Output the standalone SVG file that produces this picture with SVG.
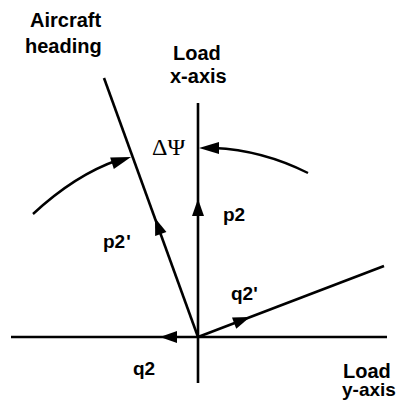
<svg xmlns="http://www.w3.org/2000/svg" xmlns:xlink="http://www.w3.org/1999/xlink" width="402" height="400" viewBox="0 0 402 400">
  <style>
    .ln { stroke: #000; stroke-width: 2.6; fill: none; stroke-linecap: butt; }
    .arc { stroke: #000; stroke-width: 2.4; fill: none; }
    .lbl { font-family: "Liberation Sans", Arial, Helvetica, sans-serif; font-weight: bold; font-size: 20px; fill: #000; }
    .sm { font-family: "Liberation Sans", Arial, Helvetica, sans-serif; font-weight: bold; font-size: 19px; fill: #000; }
    .greek { font-family: "Liberation Serif", "Times New Roman", serif; font-size: 24px; fill: #000; }
    .ah { fill: #000; stroke: none; }
  </style>
  <defs>
    <path id="head" class="ah" d="M0,0 L-17,-6 L-17,6 Z"/>
    <path id="headArc" class="ah" d="M0,0 L-20,-6 L-20,6 Z"/>
  </defs>
  <rect width="402" height="400" fill="#fff"/>

  <g id="connectors">
    <!-- Load x-axis (vertical) -->
    <line class="ln" x1="198" y1="103" x2="198" y2="383"/>
    <!-- Load y-axis (horizontal) -->
    <line class="ln" x1="11" y1="337" x2="387" y2="337"/>
    <!-- Aircraft heading -->
    <line class="ln" x1="104" y1="78" x2="198" y2="337"/>
    <!-- q2' -->
    <line class="ln" x1="198" y1="337" x2="384" y2="266"/>
    <!-- arrowheads on vectors -->
    <use xlink:href="#head" transform="translate(198,199) rotate(-90)"/>
    <use xlink:href="#head" transform="translate(155,218) rotate(-109.95)"/>
    <use xlink:href="#head" transform="translate(160,337) rotate(180)"/>
    <use xlink:href="#head" transform="translate(250,317) rotate(-20.9)"/>
    <!-- delta psi arcs -->
    <path class="arc" d="M33,214 Q75,175 118,160"/>
    <use xlink:href="#headArc" transform="translate(131,157) rotate(-18)"/>
    <path class="arc" d="M308,173 Q262,150 214,148"/>
    <use xlink:href="#headArc" transform="translate(199,148) rotate(180)"/>
  </g>

  <g id="aircraft-heading">
    <text class="lbl" x="30" y="27">Aircraft</text>
    <text class="lbl" x="25" y="53">heading</text>
  </g>
  <g id="load-x-axis">
    <text class="lbl" x="173" y="60">Load</text>
    <text class="lbl" x="170" y="83">x-axis</text>
  </g>
  <g id="load-y-axis">
    <text class="lbl" x="343" y="378">Load</text>
    <text class="sm" x="342" y="396">y-axis</text>
  </g>
  <g id="delta-psi">
    <text class="greek" x="152" y="155">ΔΨ</text>
  </g>
  <g id="p2">
    <text class="sm" x="223" y="221">p2</text>
  </g>
  <g id="p2-prime">
    <text class="sm" x="103" y="248">p2<tspan dx="1">'</tspan></text>
  </g>
  <g id="q2-prime">
    <text class="sm" x="231" y="300">q2'</text>
  </g>
  <g id="q2">
    <text class="sm" x="133" y="375">q2</text>
  </g>
</svg>
